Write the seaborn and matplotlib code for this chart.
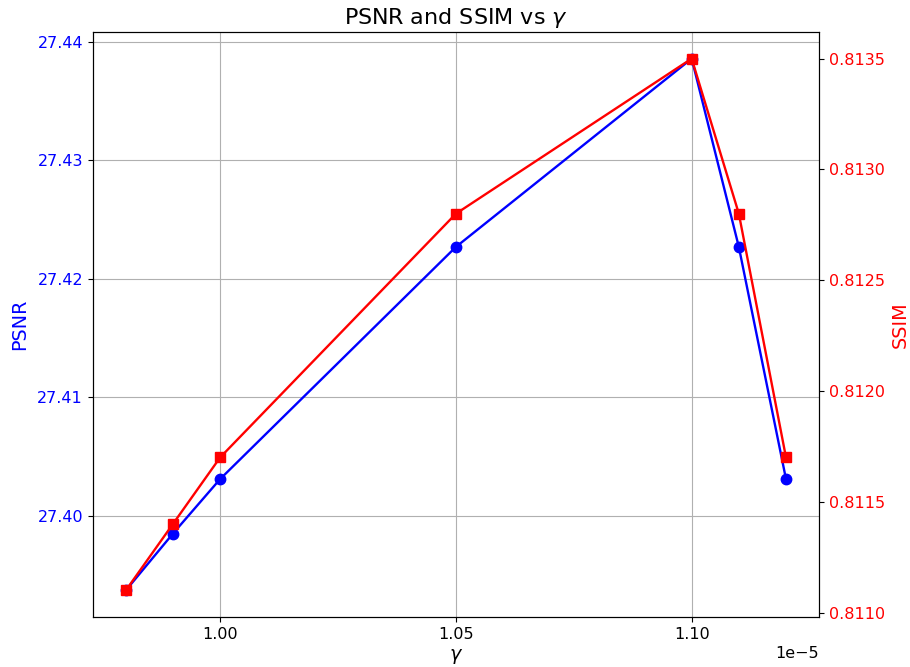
import numpy as np
import pandas as pd
import matplotlib
matplotlib.use("Agg")
import matplotlib.pyplot as plt
import seaborn as sns

# gamma values and metrics
gamma = [0.98e-5, 0.99e-5, 1.00e-5, 1.05e-5, 1.10e-5, 1.11e-5, 1.12e-5]
psnr = [27.3937, 27.3985, 27.4031, 27.4227, 27.4386, 27.4227, 27.4031]
ssim = [0.8111, 0.8114, 0.8117, 0.8128, 0.8135, 0.8128, 0.8117]

df = pd.DataFrame({"gamma": gamma, "psnr": psnr, "ssim": ssim})

plt.rcParams['font.size'] = 11.5

fig = plt.figure(figsize=(9.1, 6.67), dpi=100)
ax1 = fig.add_axes([0.102, 0.075, 0.798, 0.877])

sns.lineplot(data=df, x="gamma", y="psnr", ax=ax1, color="blue", marker="o",
             markersize=7.5, markeredgecolor="blue", markeredgewidth=1, linewidth=1.7)
ax1.set_xlabel(r"$\gamma$", fontsize=13.8, labelpad=4)
ax1.set_ylabel("PSNR", color="blue", fontsize=13.8, labelpad=6)
ax1.tick_params(axis="y", labelcolor="blue", labelsize=11.5)
ax1.tick_params(axis="x", labelsize=11.5)
ax1.set_xticks([1.00e-5, 1.05e-5, 1.10e-5])
ax1.xaxis.get_offset_text().set_fontsize(11.5)
ax1.grid(True)

ax2 = ax1.twinx()
sns.lineplot(data=df, x="gamma", y="ssim", ax=ax2, color="red", marker="s",
             markersize=7.5, markeredgecolor="red", markeredgewidth=1, linewidth=1.7)
ax2.set_ylabel("SSIM", color="red", fontsize=13.8)
ax2.tick_params(axis="y", labelcolor="red", labelsize=11.5)

ax1.set_title(r"PSNR and SSIM vs $\gamma$", fontsize=16)

fig.savefig("out.png", dpi=100)
